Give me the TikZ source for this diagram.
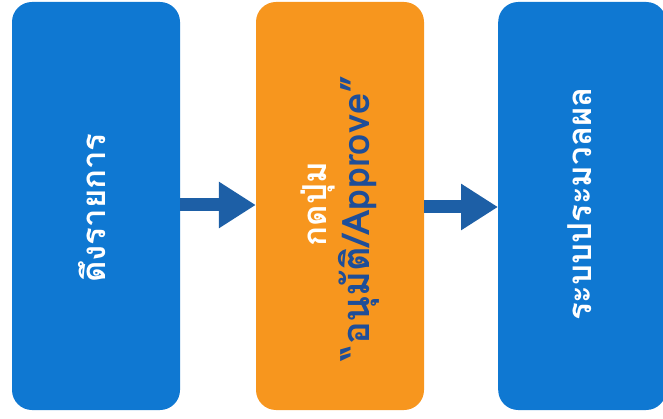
\documentclass[tikz,border=0pt]{standalone}
\usepackage{fontspec}
\usetikzlibrary{arrows.meta}
\newfontfamily\thaifont[Script=Thai]{Loma}
\definecolor{boxblue}{HTML}{0F78D2}
\definecolor{boxorange}{HTML}{F7961E}
\definecolor{arrowblue}{HTML}{1D5FA6}
\definecolor{textblue}{HTML}{1F4E98}
\begin{document}
\begin{tikzpicture}[x=1pt,y=-1pt,
  stepbox/.style={rounded corners=20pt, minimum width=168pt, minimum height=408pt, inner sep=0pt},
  steptext/.style={rotate=90, font=\thaifont\bfseries\fontsize{33}{42}\selectfont, text=white, align=center, inner sep=0pt},
  flow/.style={draw=arrowblue, line width=13pt, -{Triangle[length=37pt,width=44pt]}}]
\useasboundingbox (0,0) rectangle (663,419);
\node[stepbox, fill=boxblue] (b1) at (96,206) {};
\node[stepbox, fill=boxorange] (b2) at (340,206) {};
\node[stepbox, fill=boxblue, anchor=west] (b3) at (498,206) {};
\node[steptext] (t1) at (92,208) {ดึงรายการ};
\node[steptext] (t2) at (318,204) {กดปุ่ม};
\node[steptext, text=textblue, font=\thaifont\bfseries\fontsize{38}{46}\selectfont] (t2b) at (359,218) {“อนุมัติ/Approve”};
\node[steptext] (t3) at (580,204) {ระบบประมวลผล};
\draw[flow] (b1.east |- 0,205) -- (b2.west |- 0,205);
\draw[flow] (b2.east |- 0,207) -- (b3.west |- 0,207);
\end{tikzpicture}
\end{document}
